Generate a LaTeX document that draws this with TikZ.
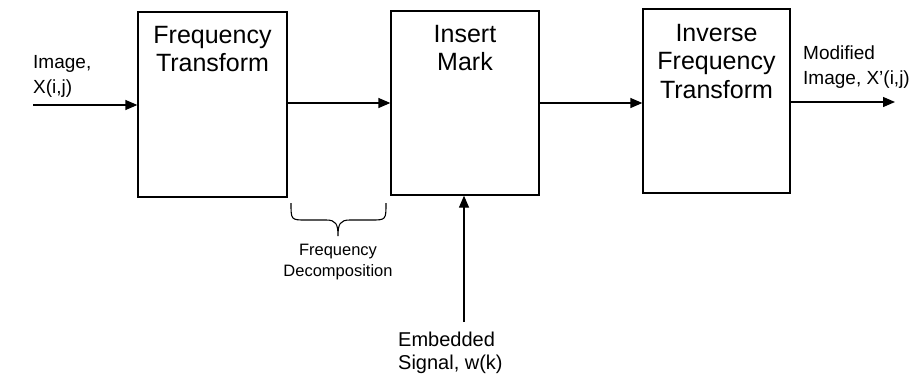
\documentclass[tikz,border=0pt]{standalone}
\usepackage{fontspec}
\setmainfont{Liberation Sans}
\usetikzlibrary{arrows.meta}
\begin{document}
\begin{tikzpicture}[x=1pt,y=-1pt,
  blk/.style={draw,line width=1.3pt,rectangle,inner sep=0pt},
  flow/.style={line width=1.3pt,-{Triangle[length=12pt,width=10pt]}},
  boxtxt/.style={inner sep=0pt,anchor=north,align=center,font=\fontsize{25}{28.5}\selectfont},
  sidetxt/.style={inner sep=0pt,anchor=north west,align=left,font=\fontsize{19}{25}\selectfont},
  smalltxt/.style={inner sep=0pt,anchor=north,align=center,font=\fontsize{16.5}{21}\selectfont}]
\useasboundingbox (0,0) rectangle (916,375);

% processing blocks
\node[blk,minimum width=149pt,minimum height=185pt] (ft) at (212.5,104.5) {};
\node[blk,minimum width=148pt,minimum height=184pt] (im) at (465,103) {};
\node[blk,minimum width=147pt,minimum height=184pt] (ift) at (716.5,101) {};

\node[boxtxt] (ftlabel) at (212.5,26) {Frequency\\Transform};
\node[boxtxt] (imlabel) at (465,25) {Insert\\Mark};
\node[boxtxt] (iftlabel) at (716.5,24) {Inverse\\Frequency\\Transform};

% input and output
\coordinate (in) at (33,105);
\coordinate (out) at (895,102);
\node[sidetxt] (inlabel) at (33,55) {Image,\\X(i,j)};
\node[sidetxt] (outlabel) at (803,46) {Modified\\Image, X’(i,j)};

\draw[flow] (in) -- (ft.west |- in);
\draw[flow] (ft.east |- 0,103) -- (im.west |- 0,103);
\draw[flow] (im.east |- 0,103) -- (ift.west |- 0,103);
\draw[flow] (ift.east |- out) -- (out);

% embedded signal
\coordinate (sig) at (464,322);
\draw[flow] (sig) -- (sig |- im.south);
\node[sidetxt,font=\fontsize{20}{23}\selectfont] (siglabel) at (398,332) {Embedded\\Signal, w(k)};

% brace under the connection between the first two blocks
\draw[line width=1.1pt] (291,203) .. controls (291,220) and (291,220) .. (306,220)
  -- (326,220) .. controls (336,220) and (338,224) .. (338,236)
  .. controls (338,224) and (340,220) .. (350,220)
  -- (371,220) .. controls (386,220) and (386,220) .. (386,203);
\node[smalltxt] (declabel) at (338,244) {Frequency\\Decomposition};
\end{tikzpicture}
\end{document}
